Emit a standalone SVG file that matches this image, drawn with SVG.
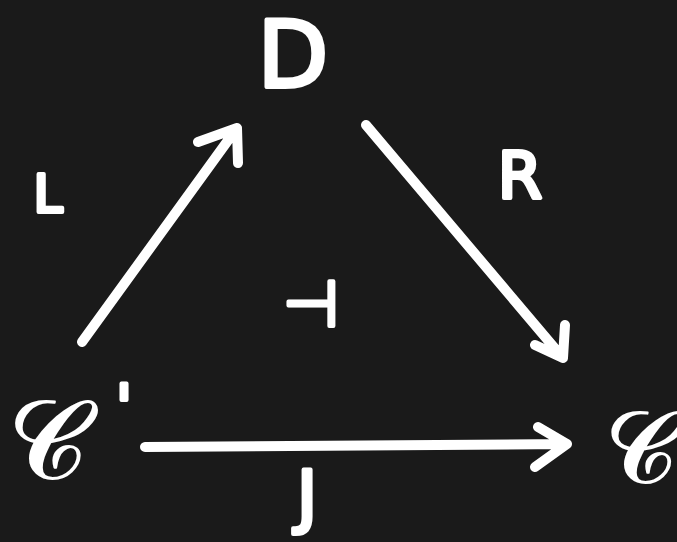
<svg xmlns="http://www.w3.org/2000/svg" width="677" height="542" viewBox="0 0 677 542">
<style>
.bg{fill:#1a1a1a}
.c{fill:none;stroke:#fff;stroke-width:10;stroke-linecap:round;stroke-linejoin:round}
.t{fill:#fff;stroke:#fff;stroke-width:4;stroke-linejoin:round;font-family:"DejaVu Sans",sans-serif;text-anchor:middle}
.s{fill:#fff;stroke:#fff;stroke-width:2;stroke-linejoin:round;font-family:"DejaVu Sans","Noto Sans",serif;text-anchor:middle}
</style>
<rect class="bg" width="677" height="542"/>
<g id="node-D"><text class="t" x="293" y="87" font-size="92">D</text></g>
<g id="node-Cp"><text class="s" x="48" y="478" font-size="110">𝒞</text><text class="t" x="124" y="428" font-size="60">'</text></g>
<g id="node-C"><text class="s" x="641" y="482" font-size="100">𝒞</text></g>
<g id="labels">
<text class="t" x="48" y="212" font-size="52">L</text>
<text class="t" x="520" y="198" font-size="64">R</text>
<text class="t" x="307" y="520" font-size="70">J</text>
<text class="t" x="311" y="326" font-size="64">⊣</text>
</g>
<g id="connectors">
<path class="c" d="M82,342 L237,128 M198,142 L237,128 L238,163"/>
<path class="c" d="M366,125 L563,358 M535,345 L563,358 L565,325"/>
<path class="c" d="M145,447 L567,444 M538,427 L567,444 L535,467"/>
</g>
</svg>
